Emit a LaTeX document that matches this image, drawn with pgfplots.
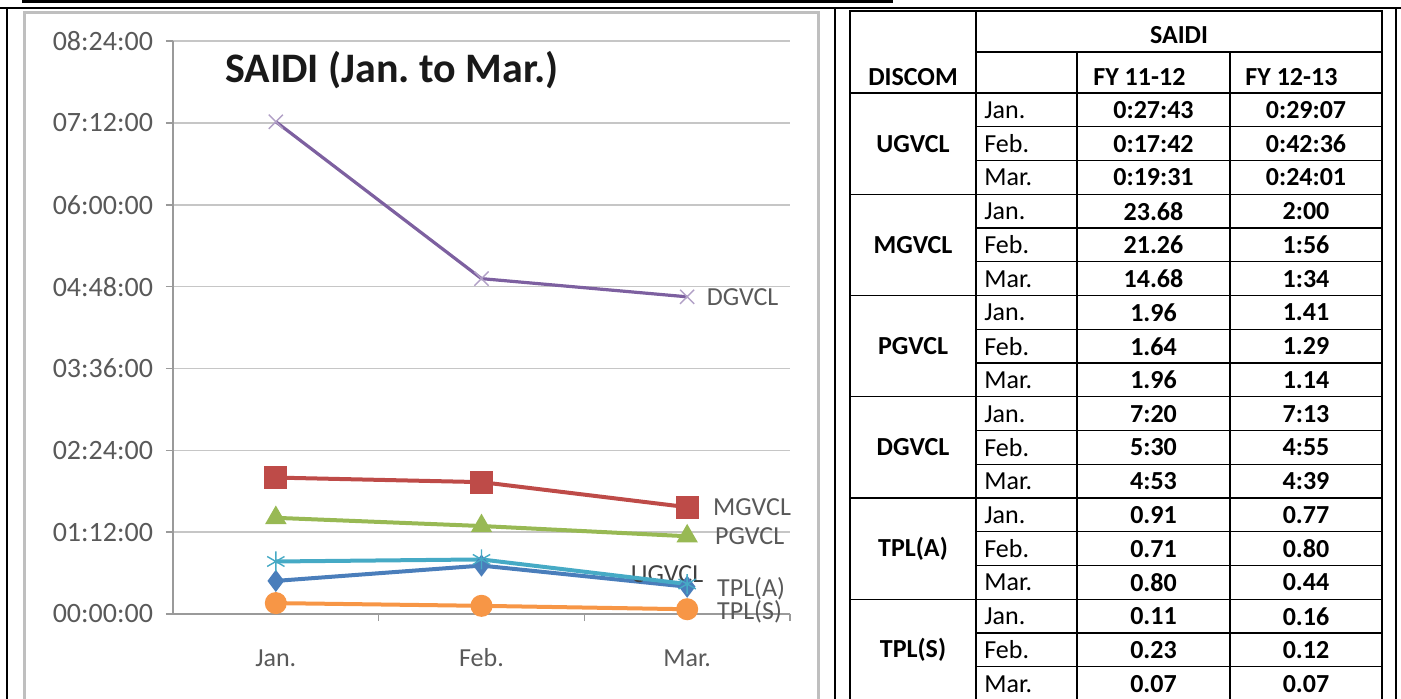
\documentclass[border=0pt]{standalone}
\usepackage{fontspec}
\setmainfont{Carlito}
\usepackage{pgfplots}
\pgfplotsset{compat=1.18}
\frenchspacing

\definecolor{ugvcl}{HTML}{4A7EBB}
\definecolor{mgvcl}{HTML}{BE4B48}
\definecolor{pgvcl}{HTML}{98B954}
\definecolor{dgvcl}{HTML}{7D60A0}
\definecolor{tpla}{HTML}{46AAC5}
\definecolor{tpls}{HTML}{F79646}
\definecolor{lbl}{HTML}{595959}
\definecolor{axgray}{HTML}{9A9A9A}

\newcommand{\tf}{\fontsize{13}{15}\selectfont}

\begin{document}
\begin{tikzpicture}[lab/.style={inner sep=0pt, text=lbl, font=\tf}]
\path[use as bounding box] (0,0) rectangle (700.5pt,-349pt);

% page frame, chart frame and table, in pixel units (y downwards)
\begin{scope}[x=0.5pt,y=-0.5pt]
\fill (22,0) rectangle (893,3);
\draw[line width=0.7pt] (0,8) -- (1401,8);
\draw[line width=0.7pt] (7,8) -- (7,710);
\draw[line width=0.7pt] (835,8) -- (835,710);
\draw[line width=0.7pt] (1396,8) -- (1396,710);
\draw[gray!50, line width=1.5pt] (24,12) rectangle (818,712);

% table grid
\begin{scope}[line width=0.6pt]
\draw (850,11) rectangle (1382,720);
\draw (976,11) -- (976,720);
\draw (976,52) -- (1382,52);
\draw (1077,52) -- (1077,720);
\draw (1230,52) -- (1230,720);
\foreach \k in {0,...,5} \draw (850,93+101.25*\k) -- (1382,93+101.25*\k);
\foreach \i in {1,2,4,5,7,8,10,11,13,14,16,17} \draw (976,93+33.75*\i) -- (1382,93+33.75*\i);
\end{scope}

\begin{scope}[inner sep=0pt, tb/.style={font=\tf\bfseries}, tr/.style={font=\tf}]
\node[tb] at (1179,35) {SAIDI};
\node[tb] at (913,77) {DISCOM};
\node[tb, anchor=west] at (1093,77) {FY 11-12};
\node[tb, anchor=west] at (1245,77) {FY 12-13};
\foreach \g/\n in {0/UGVCL,1/MGVCL,2/PGVCL,3/DGVCL,4/TPL(A),5/TPL(S)}
  \node[tb] at (913,93+101.25*\g+50.6) {\n};
\foreach \i/\m/\a/\b in {
  0/Jan./0:27:43/0:29:07, 1/Feb./0:17:42/0:42:36, 2/Mar./0:19:31/0:24:01,
  3/Jan./23.68/2:00, 4/Feb./21.26/1:56, 5/Mar./14.68/1:34,
  6/Jan./1.96/1.41, 7/Feb./1.64/1.29, 8/Mar./1.96/1.14,
  9/Jan./7:20/7:13, 10/Feb./5:30/4:55, 11/Mar./4:53/4:39,
  12/Jan./0.91/0.77, 13/Feb./0.71/0.80, 14/Mar./0.80/0.44,
  15/Jan./0.11/0.16, 16/Feb./0.23/0.12, 17/Mar./0.07/0.07}{
  \node[tr, anchor=west] at (984,93+33.75*\i+17) {\m};
  \node[tb] at (1153.5,93+33.75*\i+17) {\a};
  \node[tb] at (1306,93+33.75*\i+17) {\b};
}
\end{scope}
\end{scope}

\node[font=\bfseries\fontsize{21}{24}\selectfont, text=black!90] at (196pt,-35pt) {SAIDI (Jan. to Mar.)};

\begin{axis}[
  at={(86.5pt,-307pt)}, anchor=south west,
  scale only axis, width=308.5pt, height=286.5pt,
  xmin=0.5, xmax=3.5, ymin=0, ymax=504,
  axis x line*=bottom, axis y line*=left,
  axis line style={-, draw=axgray, line width=0.8pt},
  ytick={0,72,...,504},
  yticklabels={00:00:00,01:12:00,02:24:00,03:36:00,04:48:00,06:00:00,07:12:00,08:24:00},
  ymajorgrids, major grid style={gray!45, line width=0.8pt},
  xtick={1,2,3}, xticklabels={Jan.,Feb.,Mar.},
  minor xtick={1.5,2.5,3.5},
  tick align=outside, major tick length=3.5pt, minor tick length=3.5pt,
  every major x tick/.append style={draw=none},
  tick style={draw=axgray, line width=0.8pt},
  ticklabel style={text=lbl},
  yticklabel style={font=\fontsize{14}{16}\selectfont, xshift=-3pt},
  xticklabel style={font=\tf, text height=9pt, text depth=2pt, yshift=-10pt},
  clip=false,
]
\addplot[ugvcl, line width=2pt, mark=diamond*, mark size=3.9pt]
  coordinates {(1,29.12) (2,42.6) (3,24.02)}
  node[pos=1, lab, anchor=east, xshift=9pt, yshift=6.5pt, text=black!75] {UGVCL};
\addplot[mgvcl, line width=2pt, mark=square*, mark size=4.7pt]
  coordinates {(1,120) (2,116) (3,94)}
  node[pos=1, lab, anchor=west, xshift=12pt] {MGVCL};
\addplot[pgvcl, line width=2pt, mark=triangle*, mark size=4.2pt]
  coordinates {(1,84.6) (2,77.4) (3,68.4)}
  node[pos=1, lab, anchor=west, xshift=13pt] {PGVCL};
\addplot[dgvcl, line width=1.6pt, mark=x, mark size=5pt, mark options={line width=0.7pt, draw=dgvcl!60}]
  coordinates {(1,433) (2,295) (3,279)}
  node[pos=1, lab, anchor=west, xshift=9pt] {DGVCL};
\addplot[tpla, line width=2pt, mark=asterisk, mark size=5pt, mark options={line width=0.7pt}]
  coordinates {(1,46.2) (2,48) (3,26.4)}
  node[pos=1, lab, anchor=west, xshift=14pt, yshift=-2.5pt] {TPL(A)};
\addplot[tpls, line width=2pt, mark=*, mark size=4.5pt]
  coordinates {(1,9.6) (2,7.2) (3,4.2)}
  node[pos=1, lab, anchor=west, xshift=14pt, yshift=-1.5pt] {TPL(S)};
\end{axis}
\end{tikzpicture}
\end{document}
